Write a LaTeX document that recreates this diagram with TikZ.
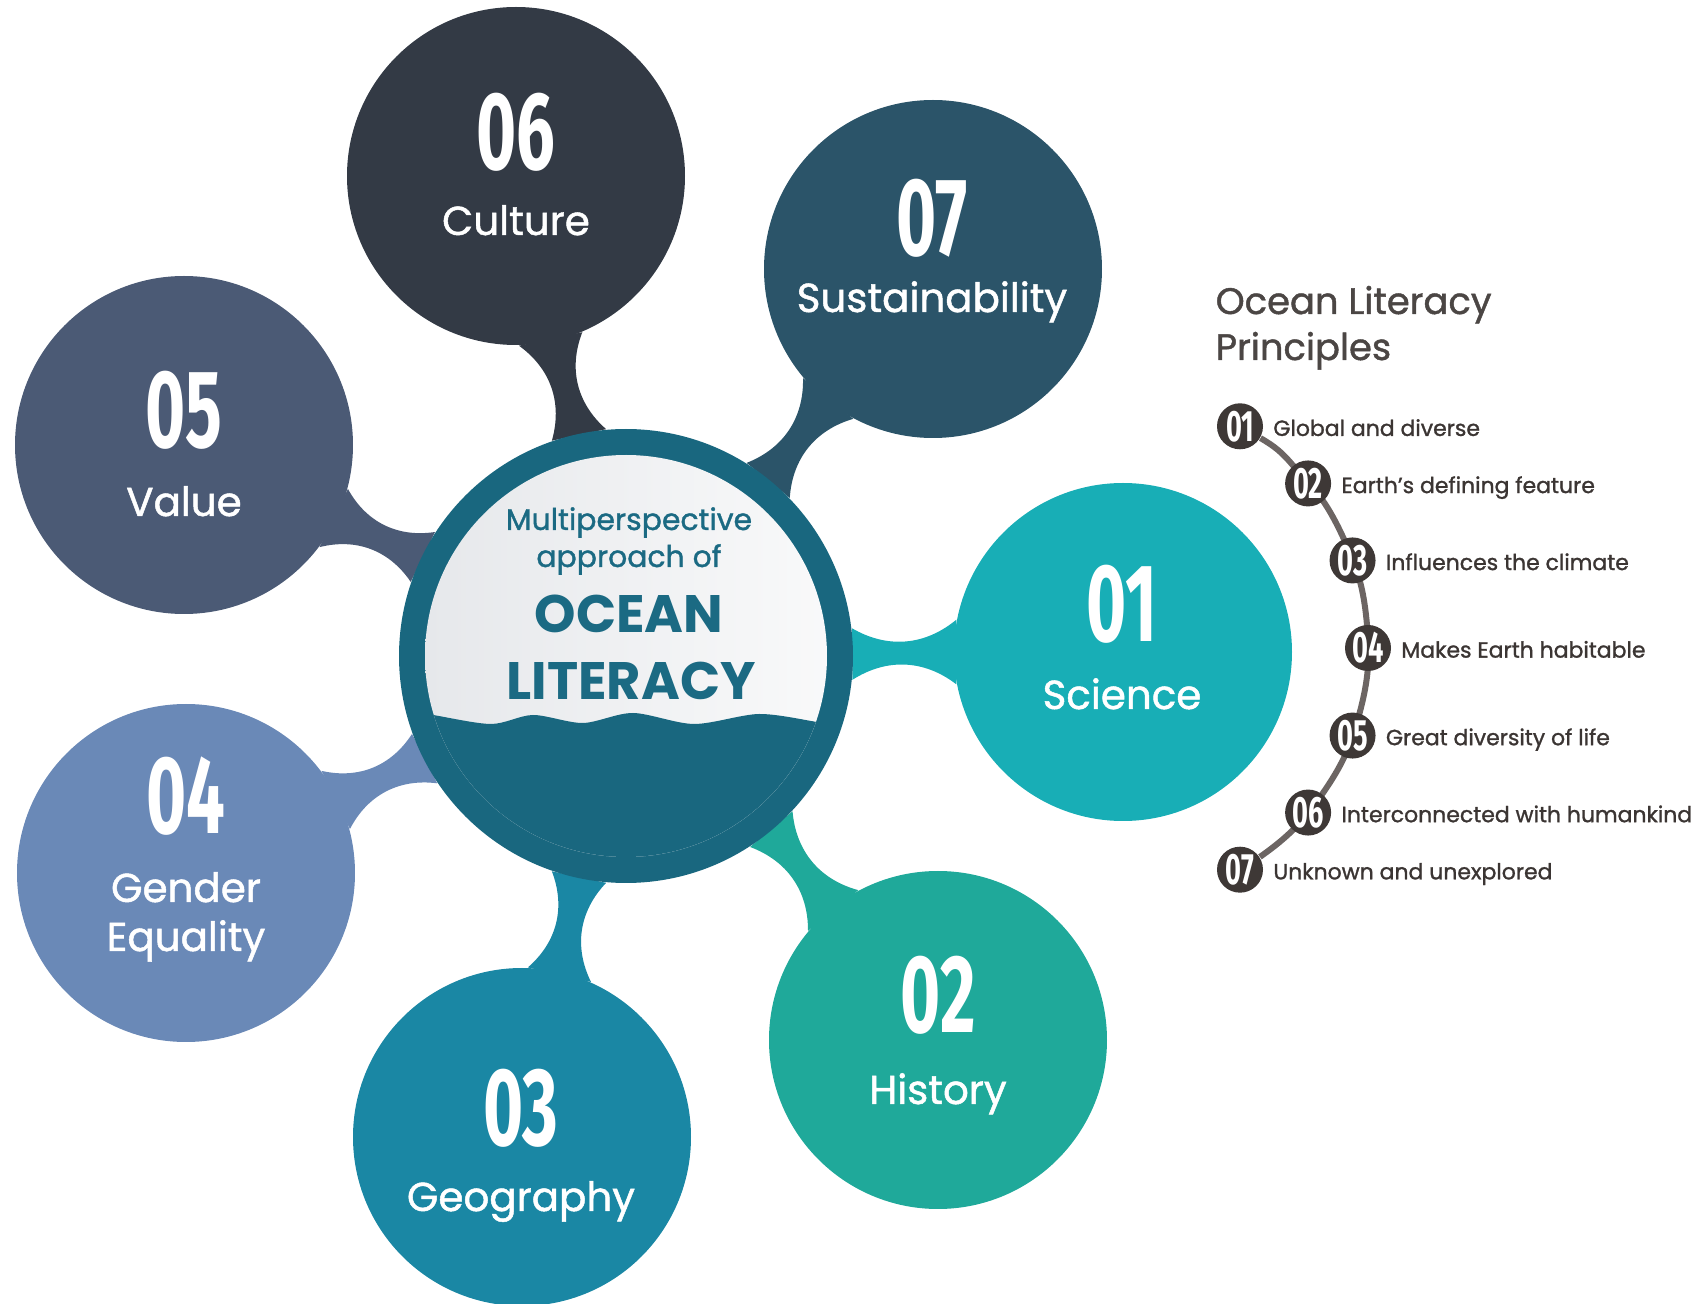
\documentclass[tikz,border=0pt]{standalone}
\usepackage{fontspec}
\setmainfont{Poppins}
\newfontfamily\medfont[FakeBold=1.2, Ligatures=TeX]{Poppins}
\newfontfamily\numfont[FakeStretch=0.62]{Fira Sans}
\usetikzlibrary{positioning,calc,backgrounds}

\definecolor{cCult}{HTML}{333A45}
\definecolor{cSust}{HTML}{2B5469}
\definecolor{cVal}{HTML}{4B5A75}
\definecolor{cSci}{HTML}{18AEB6}
\definecolor{cGend}{HTML}{6A89B7}
\definecolor{cGeo}{HTML}{1A87A4}
\definecolor{cHist}{HTML}{1FA99A}
\definecolor{cRing}{HTML}{19677F}
\definecolor{cPale}{HTML}{E6E8EB}
\definecolor{cText}{HTML}{1B6A83}
\definecolor{cBadge}{HTML}{3E3836}
\definecolor{cTrail}{HTML}{6C6563}
\definecolor{cHead}{HTML}{4B4644}
\definecolor{cItem}{HTML}{3B3533}

\begin{document}
\begin{tikzpicture}[x=0.1mm, y=-0.1mm]
	\tikzstyle{bubble}=[circle, minimum size=3.38cm, inner sep=0pt]
	\tikzstyle{num}=[font=\numfont\bfseries\fontsize{31.5}{31.5}\selectfont, text=white, inner sep=0pt]
	\tikzstyle{lbl}=[font=\medfont\fontsize{11.5}{14}\selectfont, text=white, anchor=base, inner sep=0pt]
	\tikzstyle{hubtxt}=[text=cText, anchor=base, inner sep=0pt]
	\tikzstyle{badge}=[circle, fill=cBadge, minimum size=0.46cm, inner sep=0pt, text=white, font=\numfont\bfseries\fontsize{12.5}{12.5}\selectfont]
	\tikzstyle{item}=[font=\medfont\fontsize{6.25}{8}\selectfont, text=cItem, inner sep=0pt, text height=1.0ex, text depth=0pt]
	\tikzstyle{head}=[anchor=base west, text=cHead, font=\medfont\fontsize{10.5}{12}\selectfont, inner sep=0pt]
	\tikzstyle{trail}=[draw=cTrail, line width=0.6mm]

	\useasboundingbox (0,0) rectangle (1706,1304);

	% centre
	\node[circle, fill=cRing, minimum size=4.54cm, inner sep=0pt] (hub) at (626,656) {};
	\node[circle, minimum size=4.02cm, inner sep=0pt, left color=cPale, right color=cPale!25!white] (core) at (hub) {};
	\begin{scope}
		\clip (hub) circle (201);
		\fill[cRing] plot[smooth] coordinates {(405,711) (433,715) (491,724) (533,715) (583,723) (633,713) (694,724) (759,714) (817,722) (845,727)} -- (845,880) -- (405,880) -- cycle;
	\end{scope}
	\node[hubtxt, font=\medfont\fontsize{8.5}{10}\selectfont] (multi) at (629,530) {Multiperspective};
	\node[hubtxt, font=\medfont\fontsize{8.5}{10}\selectfont] (appr) at (629,567) {approach of};
	\node[hubtxt, font=\bfseries\fontsize{15}{18}\selectfont] (ocean) at (629,633) {OCEAN};
	\node[hubtxt, font=\bfseries\fontsize{15}{18}\selectfont] (lit) at (631,700) {LITERACY};

	% perspectives
	\node[bubble, fill=cCult] (cult) at (516,176) {};
	\node[num] (cultN) at (516,132) {06};
	\node[lbl] (cultL) at (516,235) {Culture};
	\node[bubble, fill=cSust] (sust) at (933,269) {};
	\node[num] (sustN) at (932,218) {07};
	\node[lbl] (sustL) at (932,312) {Sustainability};
	\node[bubble, fill=cVal] (val) at (184,445) {};
	\node[num] (valN) at (184,410) {05};
	\node[lbl] (valL) at (184,516) {Value};
	\node[bubble, fill=cSci] (sci) at (1123,652) {};
	\node[num] (sciN) at (1122,604) {01};
	\node[lbl] (sciL) at (1122,709) {Science};
	\node[bubble, fill=cGend] (gend) at (186,873) {};
	\node[num] (gendN) at (186,796) {04};
	\node[lbl] (gendL) at (186,902) {Gender};
	\node[lbl] (gendL2) at (186,951) {Equality};
	\node[bubble, fill=cGeo] (geo) at (522,1137) {};
	\node[num] (geoN) at (521,1108) {03};
	\node[lbl] (geoL) at (521,1211) {Geography};
	\node[bubble, fill=cHist] (hist) at (938,1040) {};
	\node[num] (histN) at (938,995) {02};
	\node[lbl] (histL) at (938,1104) {History};

	% principles
	\node[head] (head1) at (1215,314) {Ocean Literacy};
	\node[head] (head2) at (1215,360) {Principles};
	\coordinate (arcc) at (1112,648);
	\foreach \k/\txt [evaluate=\k as \ang using -80+20*\k] in {1/Global and diverse, 2/Earth’s defining feature, 3/Influences the climate, 4/Makes Earth habitable, 5/Great diversity of life, 6/Interconnected with humankind, 7/Unknown and unexplored}{
		\node[badge] (p\k) at ($(arcc)+(\ang:256)$) {0\k};
		\node[item, right=0.9mm of p\k] (t\k) {\txt};
	}

	\begin{scope}[on background layer]
		\foreach \sat/\col in {cult/cCult, sust/cSust, val/cVal, sci/cSci, gend/cGend, geo/cGeo, hist/cHist}
			\fill[\col] let \p1=($(\sat)-(hub)$), \n1={atan2(\y1,\x1)}, \n2={\n1+7}, \n3={\n1+169}, \n4={\n1+191}, \n5={\n1-7} in
				(hub.\n2) to[bend right=35] (\sat.\n3) -- (\sat.\n4) to[bend right=35] (hub.\n5) -- cycle;
		\draw[trail] (p1) to[bend left=10] (p2) to[bend left=10] (p3) to[bend left=10] (p4) to[bend left=10] (p5) to[bend left=10] (p6) to[bend left=10] (p7);
	\end{scope}
\end{tikzpicture}
\end{document}
